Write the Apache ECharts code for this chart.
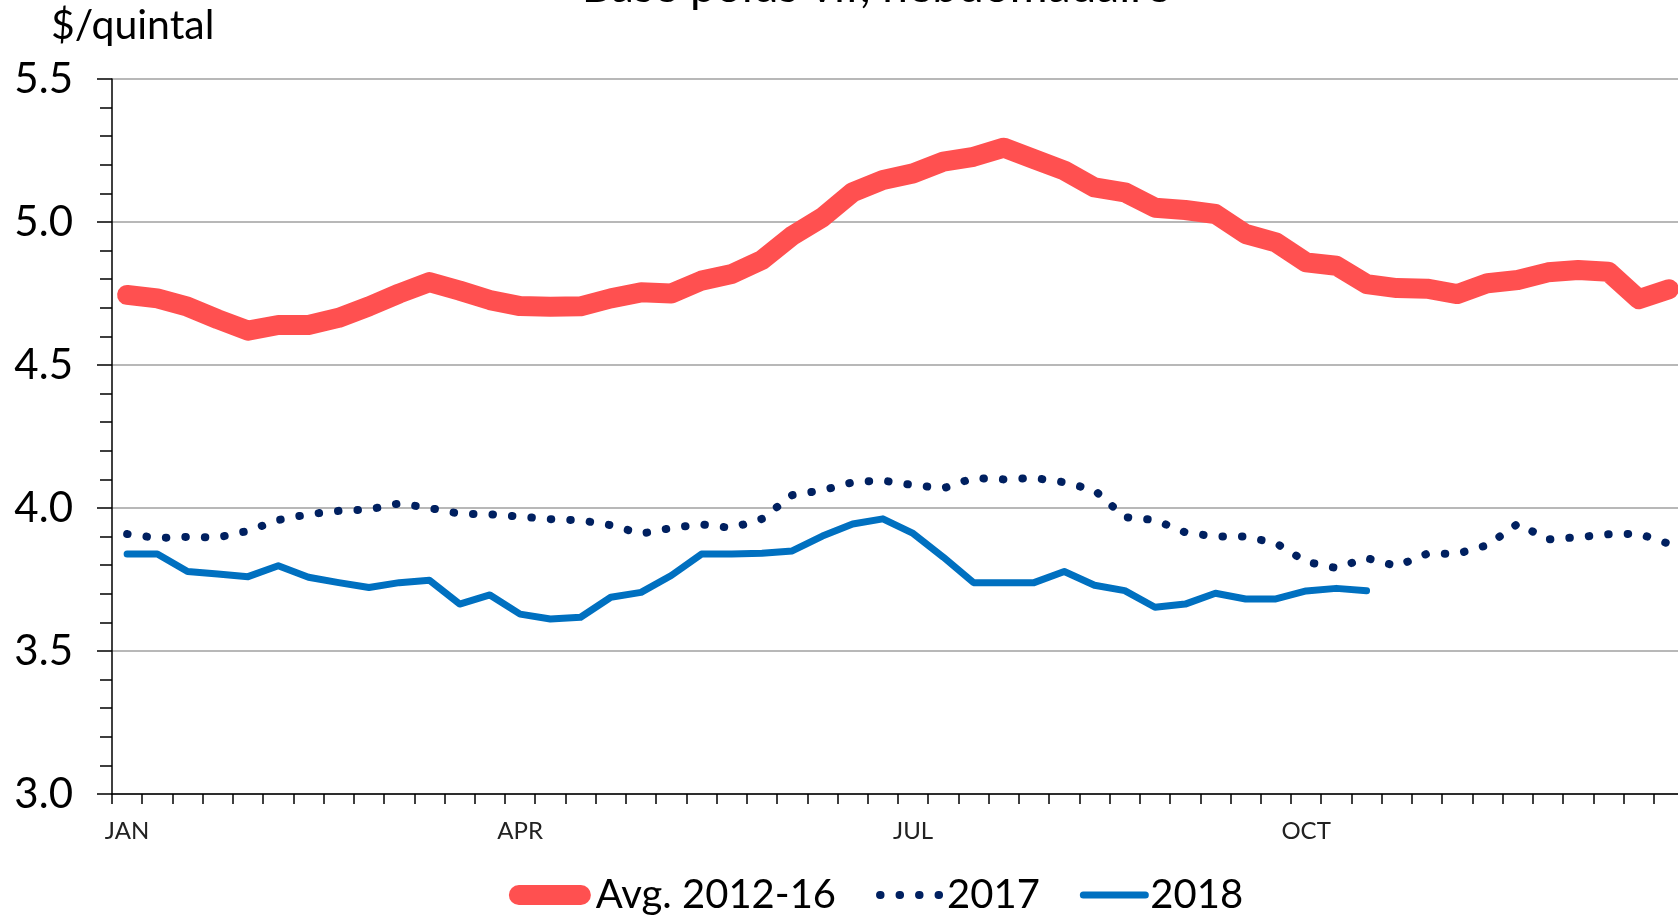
<!DOCTYPE html>
<html>
<head>
<meta charset="utf-8">
<title>Base poids vif, hebdomadaire</title>
<script src="https://cdn.jsdelivr.net/npm/echarts@6/dist/echarts.min.js"></script>
<style>
  html, body { margin: 0; padding: 0; width: 1678px; height: 916px; overflow: hidden; background: #fff; }
  #chart { width: 1752px; height: 916px; }
</style>
</head>
<body>
<div id="chart"></div>
<script>
// weekly categories, one label per quarter
const weeks = Array.from({ length: 52 }, (_, i) => 'W' + (i + 1));
const tickLabels = ['JAN', 'APR', 'JUL', 'OCT'];

// $/quintal
const avg2012_16 = [
  4.745, 4.733, 4.704, 4.66, 4.62, 4.64, 4.64, 4.665, 4.705, 4.75,
  4.79, 4.76, 4.727, 4.706, 4.704, 4.705, 4.733, 4.754, 4.75, 4.795,
  4.818, 4.867, 4.952, 5.016, 5.104, 5.147, 5.17, 5.211, 5.228, 5.26,
  5.22, 5.18, 5.121, 5.104, 5.05, 5.042, 5.028, 4.958, 4.929, 4.859,
  4.847, 4.783, 4.769, 4.767, 4.748, 4.786, 4.797, 4.824, 4.832, 4.826,
  4.73, 4.765
];
const y2017 = [
  3.909, 3.895, 3.899, 3.897, 3.92, 3.958, 3.978, 3.99, 3.995, 4.016,
  4.0, 3.98, 3.978, 3.97, 3.961, 3.957, 3.94, 3.91, 3.93, 3.943,
  3.93, 3.962, 4.045, 4.062, 4.09, 4.096, 4.08, 4.069, 4.105, 4.10,
  4.105, 4.09, 4.062, 3.968, 3.958, 3.915, 3.90, 3.90, 3.877, 3.812,
  3.79, 3.825, 3.797, 3.84, 3.84, 3.87, 3.945, 3.89, 3.898, 3.908,
  3.91, 3.875
];
const y2018 = [
  3.839, 3.839, 3.778, 3.769, 3.76, 3.798, 3.758, 3.739, 3.722, 3.739,
  3.747, 3.664, 3.696, 3.629, 3.612, 3.618, 3.688, 3.705, 3.764, 3.839,
  3.839, 3.842, 3.85, 3.902, 3.944, 3.962, 3.911, 3.828, 3.739, 3.739,
  3.739, 3.778, 3.73, 3.711, 3.653, 3.664, 3.702, 3.682, 3.682, 3.71,
  3.719, 3.711
];

const font = 'Lato, "Noto Sans", sans-serif';
const chart = echarts.init(document.getElementById('chart'));

chart.setOption({
  animation: false,
  backgroundColor: '#fff',
  title: [
    {
      text: 'Base poids vif, hebdomadaire',
      left: 'center',
      top: -41,
      textStyle: { fontFamily: font, fontSize: 46, fontWeight: 'normal', color: '#000' }
    },
    {
      text: '$/quintal',
      left: 46,
      top: 0,
      textStyle: { fontFamily: font, fontSize: 41, fontWeight: 'normal', color: '#000' }
    }
  ],
  grid: { left: 112, right: 68, top: 79, bottom: 122, outerBoundsMode: 'none' },
  legend: {
    left: 'center',
    top: 870,
    itemWidth: 62,
    itemHeight: 20,
    itemGap: 40,
    itemStyle: { opacity: 0 },
    textStyle: { fontFamily: font, fontSize: 40, color: '#000' },
    data: [
      { name: 'Avg. 2012-16', lineStyle: { width: 20 }, textStyle: { padding: [0, 0, 0, 10] } },
      { name: '2017', lineStyle: { width: 8 } },
      { name: '2018', lineStyle: { width: 7 } }
    ]
  },
  xAxis: {
    type: 'category',
    data: weeks,
    boundaryGap: true,
    axisLine: { lineStyle: { color: '#000', width: 1.5 } },
    axisTick: { show: true, interval: 0, length: 10, lineStyle: { color: '#000', width: 1.5 } },
    axisLabel: {
      interval: 12,
      margin: 25,
      fontFamily: font,
      fontSize: 24,
      color: '#222',
      formatter: (v, i) => tickLabels[i / 13] || ''
    },
    splitLine: { show: false }
  },
  yAxis: {
    type: 'value',
    min: 3,
    max: 5.5,
    interval: 0.5,
    axisLine: { show: true, lineStyle: { color: '#000', width: 1.5 } },
    axisTick: { show: true, length: 15, lineStyle: { color: '#000', width: 1.5 } },
    minorTick: { show: true, splitNumber: 5, length: 12, lineStyle: { color: '#000', width: 1.5 } },
    axisLabel: {
      margin: 39,
      fontFamily: font,
      fontSize: 42,
      color: '#000',
      formatter: v => v.toFixed(1)
    },
    splitLine: { show: true, lineStyle: { color: '#A0A0A0', width: 1.5 } }
  },
  series: [
    {
      name: 'Avg. 2012-16',
      type: 'line',
      data: avg2012_16,
      symbol: 'none',
      lineStyle: { color: '#FF5050', width: 20, cap: 'round', join: 'round' },
      itemStyle: { color: '#FF5050' },
      emphasis: { disabled: true }
    },
    {
      name: '2017',
      type: 'line',
      data: y2017,
      symbol: 'none',
      lineStyle: { color: '#002060', width: 8, type: [0.5, 19], cap: 'round', join: 'round' },
      itemStyle: { color: '#002060' },
      emphasis: { disabled: true }
    },
    {
      name: '2018',
      type: 'line',
      data: y2018,
      symbol: 'none',
      lineStyle: { color: '#0070C0', width: 7, cap: 'round', join: 'round' },
      itemStyle: { color: '#0070C0' },
      emphasis: { disabled: true }
    }
  ]
});
</script>
</body>
</html>
